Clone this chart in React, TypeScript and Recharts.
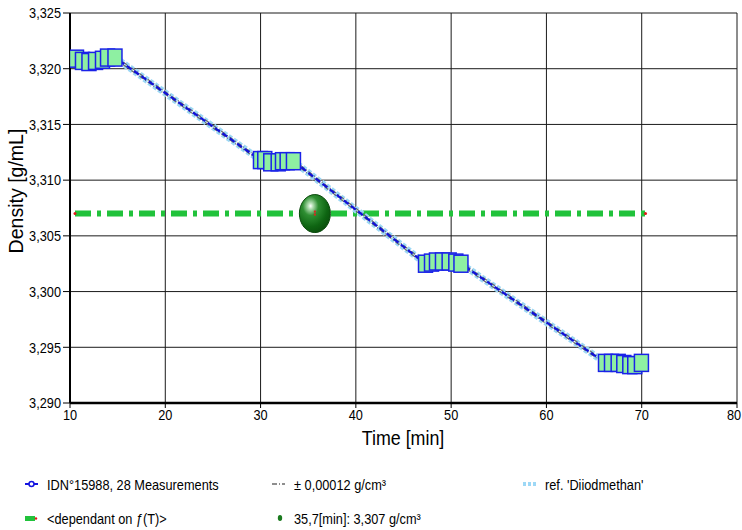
import React from "react"
import { ComposedChart, Line, Scatter, XAxis, YAxis, CartesianGrid } from "recharts"

// measurements, 4 groups of 7
const measTime = [
  10.68, 11.31, 11.99, 12.68, 13.41, 13.94, 14.72,
  29.99, 30.44, 31.07, 31.85, 32.3, 32.79, 33.45,
  47.31, 47.94, 48.46, 49.09, 49.79, 50.49, 51.03,
  66.2, 66.83, 67.53, 68.12, 68.75, 69.27, 69.97,
]
const measDensity = [
  3.3209, 3.3207, 3.3206, 3.3207, 3.3208, 3.321, 3.321,
  3.3118, 3.3118, 3.3116, 3.3116, 3.3117, 3.3117, 3.3117,
  3.3025, 3.3026, 3.3027, 3.3027, 3.3027, 3.3026, 3.3025,
  3.2936, 3.2936, 3.2936, 3.2935, 3.2934, 3.2934, 3.2936,
]

// reference curve (Diiodmethan)
const refTime = [14.72, 29.99, 33.45, 47.31, 51.03, 66.2]
const refDensity = [3.321, 3.3118, 3.3117, 3.3025, 3.3025, 3.2936]
const tolerance = 0.00012

// f(T) line and evaluated point
const fTime = [10, 70.4]
const fDensity = [3.307, 3.307]
const pointTime = [35.7]
const pointDensity = [3.307]

const xTicks = [10, 20, 30, 40, 50, 60, 70, 80]
const yTicks = [3.29, 3.295, 3.3, 3.305, 3.31, 3.315, 3.32, 3.325]

const measData = measTime.map((t, i) => ({ time: t, density: measDensity[i] }))
const refData = refTime.map((t, i) => ({
  time: t,
  ref: refDensity[i],
  upper: refDensity[i] + tolerance,
  lower: refDensity[i] - tolerance,
}))
const fData = fTime.map((t, i) => ({ time: t, f: fDensity[i] }))
const pointData = pointTime.map((t, i) => ({ time: t, density: pointDensity[i] }))

const FONT = "'Liberation Sans', Arial, sans-serif"
const NARROW = 0.85

function XTick(props: any) {
  const { x, y, payload } = props
  return (
    <text transform={`translate(${x},${y}) scale(${NARROW},1)`} textAnchor="middle" dy="0.75em" fontSize={15} fill="#000" fontFamily={FONT}>
      {payload.value}
    </text>
  )
}

function YTick(props: any) {
  const { x, y, payload } = props
  return (
    <text transform={`translate(${x},${y}) scale(${NARROW},1)`} textAnchor="end" dy="0.35em" fontSize={15} fill="#000" fontFamily={FONT}>
      {Number(payload.value).toFixed(3).replace(".", ",")}
    </text>
  )
}

function SquareDot(props: any) {
  const { cx, cy, index } = props
  if (cx == null || cy == null) return null
  return (
    <rect
      key={`sq-${index}`}
      x={cx - 7}
      y={cy - 8.5}
      width={14}
      height={17}
      fill="#8ef0a2"
      stroke="#1a22e8"
      strokeWidth={1.5}
    />
  )
}

function RedEnd(props: any) {
  const { cx, cy, index } = props
  if (cx == null || cy == null) return null
  return <circle key={`re-${index}`} cx={cx + (index === 0 ? 5 : 0)} cy={cy} r={1.5} fill="#e01818" />
}

function Sphere(props: any) {
  const { cx, cy } = props
  return (
    <g>
      <defs>
        <radialGradient id="sphereGrad" cx="0.36" cy="0.3" r="0.78">
          <stop offset="0" stopColor="#ffffff" />
          <stop offset="0.1" stopColor="#b5dfb5" />
          <stop offset="0.32" stopColor="#2f8f33" />
          <stop offset="0.7" stopColor="#0e6512" />
          <stop offset="1" stopColor="#094a0b" />
        </radialGradient>
      </defs>
      <ellipse cx={cx} cy={cy} rx={15.5} ry={19} fill="url(#sphereGrad)" stroke="#0b4a0d" strokeWidth={1} />
      <rect x={cx - 1} y={cy - 3} width={2} height={2} fill="#e02020" />
      <rect x={cx - 1} y={cy} width={2} height={2} fill="#e02020" />
    </g>
  )
}

function LegendItem({ x, y, icon, text }: { x: number; y: number; icon: React.ReactNode; text: string }) {
  return (
    <div style={{ position: "absolute", left: x, top: y - 10, height: 20, display: "flex", alignItems: "center" }}>
      <svg width={16} height={20} style={{ marginRight: 7 }}>
        {icon}
      </svg>
      <span style={{ fontSize: 15, whiteSpace: "nowrap", transform: `scaleX(${NARROW})`, transformOrigin: "left center" }}>
        {text}
      </span>
    </div>
  )
}

export default function App() {
  return (
    <div
      style={{
        position: "fixed",
        left: 0,
        top: 0,
        width: 742,
        height: 530,
        background: "#fff",
        fontFamily: FONT,
        color: "#000",
      }}
    >
      <ComposedChart width={742} height={530} margin={{ top: 13, right: 5, left: 0, bottom: 97 }}>
        <CartesianGrid stroke="#1a1a1a" strokeWidth={1} />
        <XAxis
          type="number"
          dataKey="time"
          domain={[10, 80]}
          ticks={xTicks}
          allowDataOverflow
          height={30}
          tick={<XTick />}
          tickSize={5}
          tickMargin={1}
          tickLine={{ stroke: "#000" }}
          axisLine={{ stroke: "#000", strokeWidth: 2.5 }}
        />
        <YAxis
          type="number"
          domain={[3.29, 3.325]}
          ticks={yTicks}
          allowDataOverflow
          width={70}
          tick={<YTick />}
          tickSize={7}
          tickMargin={2}
          tickLine={{ stroke: "#000" }}
          axisLine={{ stroke: "#000", strokeWidth: 2 }}
        />
        <Line
          data={fData}
          dataKey="f"
          stroke="#21c23b"
          strokeWidth={6}
          strokeDasharray="16 6 4 6"
          strokeDashoffset={27}
          dot={RedEnd}
          activeDot={false}
          isAnimationActive={false}
        />
        <Line
          data={refData}
          dataKey="ref"
          stroke="#9dd8f6"
          strokeWidth={7}
          strokeDasharray="4 2"
          dot={false}
          activeDot={false}
          isAnimationActive={false}
        />
        <Line
          data={refData}
          dataKey="upper"
          stroke="#6a6a6a"
          strokeWidth={1.2}
          strokeDasharray="5 2 1 2"
          dot={false}
          activeDot={false}
          isAnimationActive={false}
        />
        <Line
          data={refData}
          dataKey="lower"
          stroke="#6a6a6a"
          strokeWidth={1.2}
          strokeDasharray="5 2 1 2"
          dot={false}
          activeDot={false}
          isAnimationActive={false}
        />
        <Line
          data={measData}
          dataKey="density"
          stroke="#1010d8"
          strokeWidth={2.2}
          strokeDasharray="6 3"
          dot={SquareDot}
          activeDot={false}
          isAnimationActive={false}
        />
        <Scatter data={pointData} dataKey="density" shape={Sphere} isAnimationActive={false} />
      </ComposedChart>

      <div
        style={{
          position: "absolute",
          left: 16,
          top: 191,
          transform: "translate(-50%, -50%) rotate(-90deg) scaleX(0.93)",
          fontSize: 21,
          whiteSpace: "nowrap",
        }}
      >
        Density [g/mL]
      </div>
      <div
        style={{
          position: "absolute",
          left: 403,
          top: 438,
          transform: `translate(-50%, -50%) scaleX(${NARROW})`,
          fontSize: 21,
          whiteSpace: "nowrap",
        }}
      >
        Time [min]
      </div>

      <LegendItem
        x={24}
        y={484}
        text="IDN°15988, 28 Measurements"
        icon={
          <g>
            <line x1={1} y1={10} x2={14} y2={10} stroke="#1414e0" strokeWidth={2} />
            <circle cx={7.5} cy={10} r={2.5} fill="#fff" stroke="#1414e0" strokeWidth={1.5} />
          </g>
        }
      />
      <LegendItem
        x={271}
        y={484}
        text="± 0,00012 g/cm³"
        icon={<line x1={1} y1={10} x2={14} y2={10} stroke="#6a6a6a" strokeWidth={1.5} strokeDasharray="5 2 1 2" />}
      />
      <LegendItem
        x={522}
        y={484}
        text="ref. 'Diiodmethan'"
        icon={<line x1={1} y1={10} x2={15} y2={10} stroke="#9dd8f6" strokeWidth={4} strokeDasharray="3 2" />}
      />
      <LegendItem
        x={24}
        y={518}
        text="<dependant on ƒ(T)>"
        icon={
          <g>
            <rect x={1} y={8} width={10} height={5} fill="#21c23b" />
            <circle cx={12} cy={10.5} r={1.2} fill="#e01818" />
          </g>
        }
      />
      <LegendItem
        x={271}
        y={518}
        text="35,7[min]: 3,307 g/cm³"
        icon={<ellipse cx={9} cy={10} rx={2.2} ry={3} fill="#1a7a1e" />}
      />
    </div>
  )
}
